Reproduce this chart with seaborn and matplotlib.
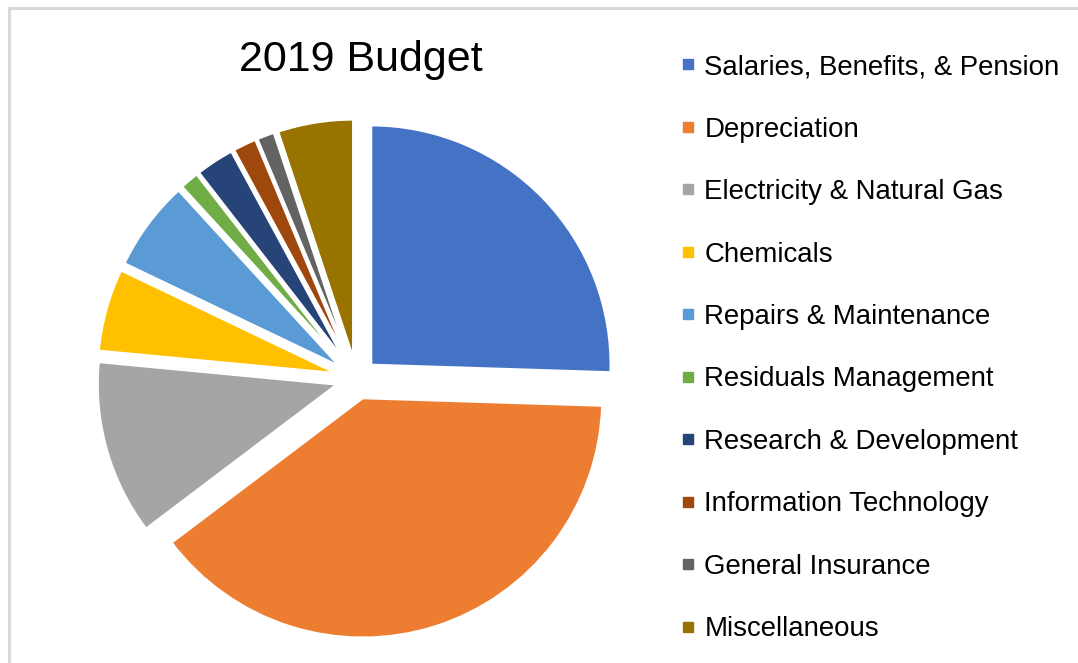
import matplotlib
matplotlib.use("Agg")
import matplotlib.pyplot as plt
from matplotlib.lines import Line2D
from matplotlib.patches import Rectangle
import seaborn as sns

sns.set_theme(style="white")
plt.rcParams["font.family"] = ["Liberation Sans", "DejaVu Sans"]

# 2019 budget shares (percent of total)
categories = [
    "Salaries, Benefits, & Pension",
    "Depreciation",
    "Electricity & Natural Gas",
    "Chemicals",
    "Repairs & Maintenance",
    "Residuals Management",
    "Research & Development",
    "Information Technology",
    "General Insurance",
    "Miscellaneous",
]
shares = [25.5, 39.2, 11.8, 5.6, 6.1, 1.3, 2.6, 1.6, 1.2, 5.1]
colors = [
    "#4472C4", "#ED7D31", "#A5A5A5", "#FFC000", "#5B9BD5",
    "#70AD47", "#264478", "#9E480E", "#636363", "#997300",
]

W, H = 1078, 663
fig = plt.figure(figsize=(W / 100, H / 100), dpi=100)

# chart-area frame (light gray, open on the right and bottom)
frame = Rectangle((8.5 / W, -0.1), 1.2, (H - 8.5) / H + 0.1,
                  transform=fig.transFigure, fill=False,
                  edgecolor="#D9D9D9", linewidth=2.2, zorder=0)
fig.patches.append(frame)

# pie axes: centre at (356.6, 378.9) px from top-left, radius 240 px
cx, cy, rad = 356.6, H - 378.9, 240.0
half = 1.2 * rad
ax = fig.add_axes([(cx - half) / W, (cy - half) / H, 2 * half / W, 2 * half / H])
ax.pie(
    shares,
    colors=colors,
    startangle=90,
    counterclock=False,
    explode=[0.083] * len(shares),
    radius=1.0,
    wedgeprops=dict(edgecolor="white", linewidth=2.0),
)
ax.set_xlim(-1.2, 1.2)
ax.set_ylim(-1.2, 1.2)
ax.set_aspect("equal")
ax.axis("off")

fig.text(360.5 / W, 1 - 60 / H, "2019 Budget", ha="center", va="center",
         fontsize=31, color="#000000")

handles = [
    Line2D([], [], linestyle="none", marker="s", markersize=6.8,
           markerfacecolor=c, markeredgecolor=c)
    for c in colors
]
fig.legend(
    handles, categories,
    loc="upper left",
    bbox_to_anchor=(668.5 / W, 1 - 43 / H),
    frameon=False,
    fontsize=19.9,
    labelspacing=1.32,
    handlelength=0.6,
    handletextpad=0.3,
    borderaxespad=0,
    labelcolor="#000000",
)

fig.savefig("out.png", dpi=100, facecolor="white")
